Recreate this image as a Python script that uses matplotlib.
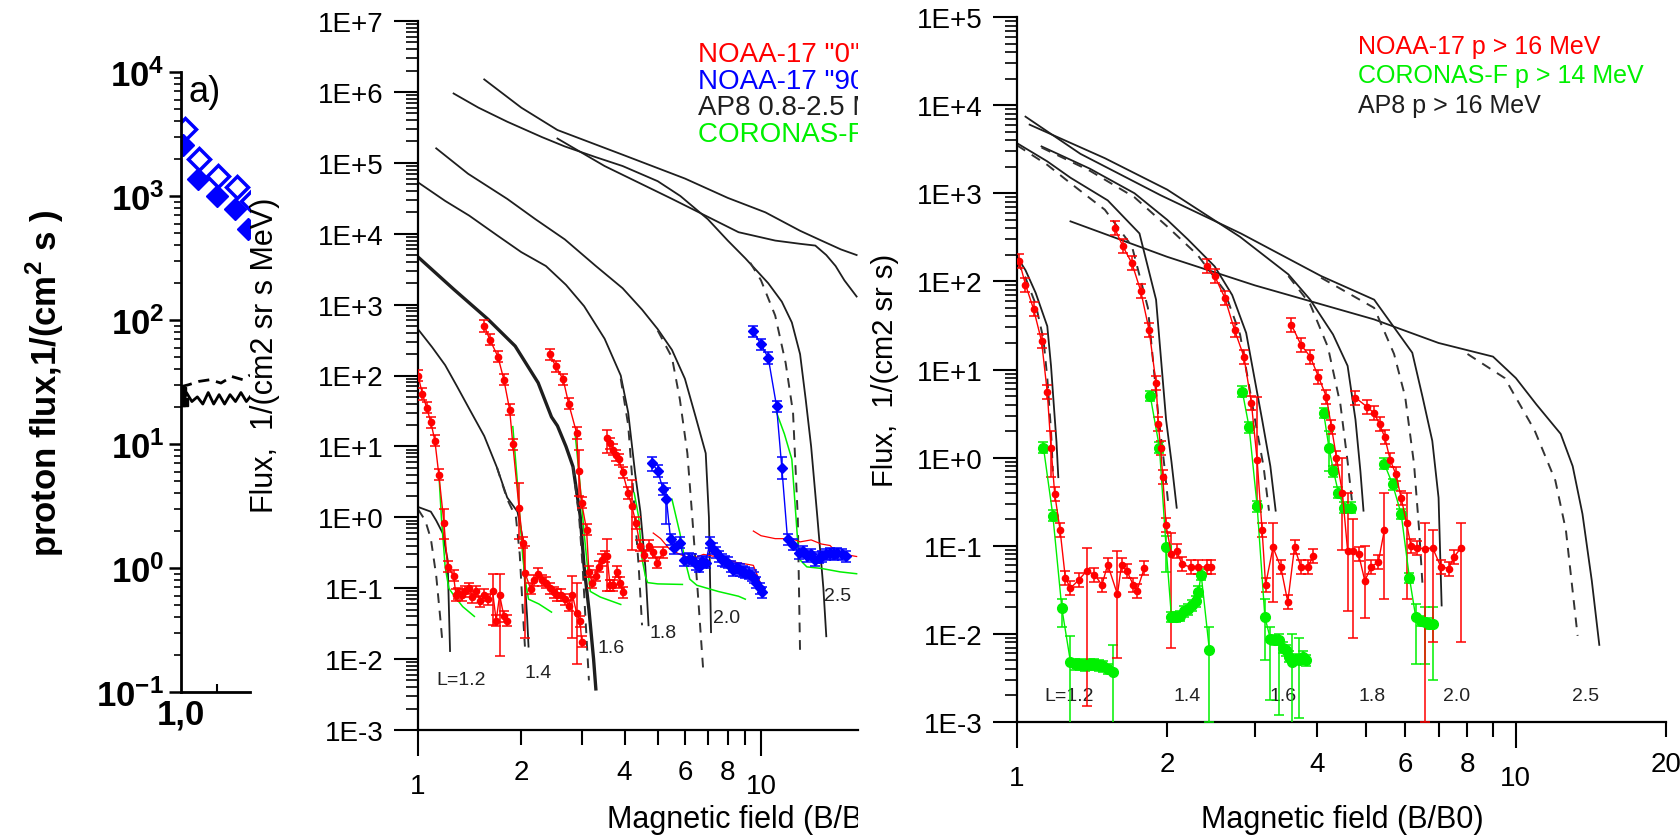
import numpy as np
import matplotlib
matplotlib.use('Agg')
import matplotlib.pyplot as plt
from matplotlib.ticker import FixedLocator, FixedFormatter, LogLocator, NullFormatter
from matplotlib.transforms import Bbox, TransformedBbox

plt.rcParams['font.family'] = ['Liberation Sans', 'DejaVu Sans']
plt.rcParams['mathtext.fontset'] = 'custom'
plt.rcParams['mathtext.rm'] = 'Liberation Sans'
plt.rcParams['mathtext.bf'] = 'Liberation Sans:bold'

RED = '#ff0000'
BLUE = '#0000ff'
GREEN = '#00f000'
BLK = '#1e1e1e'

# ---------------- panel a) ----------------
a_open_x = [1.011, 1.050, 1.102, 1.154, 1.196]
a_open_y = [3500, 2000, 1450, 1180, 910]
a_fill_x = [1.006, 1.047, 1.099, 1.149, 1.184]
a_fill_y = [2600, 1370, 1000, 785, 540]
a_sol_x = [1.0, 1.004, 1.008, 1.015, 1.03, 1.045, 1.06, 1.075, 1.09, 1.105, 1.12, 1.135, 1.15, 1.165, 1.18, 1.19]
a_sol_y = [22, 27, 22, 26, 22, 24, 21, 26, 21, 25, 21, 25, 22, 26, 22, 24]
a_dash_x = [1.0, 1.02, 1.05, 1.08, 1.11, 1.14, 1.17, 1.19]
a_dash_y = [29, 30, 32, 33, 31, 35, 33, 36]

# ---------------- middle panel (differential flux) ----------------
m_ap8 = {
    '1.2': ([1.0, 1.09, 1.13, 1.18, 1.22, 1.24], [1.4, 1.2, 0.9, 0.6, 0.25, 0.013]),
    '1.4': ([1.0, 1.1, 1.2, 1.3, 1.42, 1.56, 1.7, 1.82, 1.95, 2.02, 2.05, 2.08, 2.1],
            [450, 250, 140, 70, 32, 14, 5, 1.9, 1.2, 0.5, 0.12, 0.04, 0.015]),
    '1.6': ([1.0, 1.27, 1.6, 1.92, 2.24, 2.45, 2.55, 2.7, 2.83, 2.97, 3.05, 3.15, 3.25, 3.3],
            [4700, 1650, 620, 260, 79, 26, 19.5, 10, 5.2, 1.06, 0.2, 0.05, 0.01, 0.0038]),
    '1.8': ([1.0, 1.2, 1.41, 1.7, 2.0, 2.36, 2.7, 3.05, 3.5, 3.9, 4.1, 4.3, 4.45, 4.6, 4.7],
            [5.3e4, 2.9e4, 1.8e4, 9.5e3, 5.5e3, 3.5e3, 1.9e3, 950, 330, 100, 30, 4, 1.2, 0.2, 0.03]),
    '2.0': ([1.13, 1.4, 1.82, 2.2, 2.68, 3.3, 3.95, 4.5, 5.0, 5.5, 6.0, 6.45, 6.9, 7.05, 7.15],
            [1.6e5, 7e4, 3.1e4, 1.6e4, 8.3e3, 3.5e3, 1.7e3, 850, 450, 230, 90, 26, 8, 1, 0.024]),
    '2.5': ([1.27, 1.5, 1.82, 2.3, 2.68, 3.3, 3.95, 5.0, 5.82, 7.0, 8.0, 9.0, 10.5, 11.5, 12.3, 13.0, 13.5, 14.0, 14.6, 15.2, 15.5],
            [9.5e5, 6e5, 3.8e5, 2.3e5, 1.7e5, 1.2e5, 9e4, 5.5e4, 3.4e4, 1.6e4, 8e3, 4.5e3, 2000, 1100, 560, 200, 46, 10, 1, 0.1, 0.021]),
    'top1': ([1.56, 2.0, 2.55, 3.95, 6.0, 8.0, 10.3, 13.0, 15.0, 17.1, 19.0],
             [1.5e6, 6e5, 2.9e5, 1.3e5, 6e4, 3.2e4, 2e4, 1.1e4, 8e3, 6e3, 5e3]),
    'top2': ([2.55, 3.5, 5.5, 8.6, 11.0, 13.0, 14.4, 15.5, 16.5, 17.5, 19.0],
             [2.2e5, 9e4, 3.1e4, 1.05e4, 8e3, 7.2e3, 6.8e3, 5e3, 3.5e3, 2.2e3, 1.3e3]),
}
m_ap8_dash = {
    '1.2': ([1.0, 1.05, 1.09, 1.13, 1.16, 1.18], [1.3, 0.9, 0.5, 0.15, 0.04, 0.016]),
    '1.4': ([1.7, 1.82, 1.93, 1.98, 2.02, 2.05], [5, 1.8, 1.0, 0.3, 0.05, 0.015]),
    '1.6': ([2.83, 2.95, 3.02, 3.1, 3.15], [5.2, 1.0, 0.2, 0.02, 0.005]),
    '1.8': ([3.9, 4.1, 4.25, 4.4, 4.5], [90, 20, 2, 0.2, 0.03]),
    '2.0': ([5.0, 5.5, 5.8, 6.1, 6.3, 6.55, 6.8], [430, 180, 46, 8, 1.05, 0.08, 0.006]),
    '2.5': ([9.3, 10.0, 11.0, 11.8, 12.4, 12.8, 13.0], [3.9e3, 2.2e3, 700, 150, 30, 1, 0.012]),
}

m_red1_x = [1.0, 1.03, 1.06, 1.09, 1.12, 1.15, 1.19, 1.22, 1.27, 1.29, 1.31, 1.34, 1.37, 1.41, 1.44, 1.48, 1.52, 1.56, 1.6, 1.65, 1.69, 1.73, 1.78, 1.82]
m_red1_y = [100, 55, 35, 22, 12, 4.0, 0.84, 0.2, 0.15, 0.08, 0.085, 0.08, 0.09, 0.1, 0.075, 0.09, 0.065, 0.08, 0.07, 0.09, 0.035, 0.08, 0.04, 0.035]
m_red1_big = {6: (0.5, 1.3), 19: (0.03, 0.16), 21: (0.011, 0.16)}
m_red2_x = [1.56, 1.62, 1.71, 1.78, 1.85, 1.89, 1.97, 2.02, 2.05, 2.13, 2.18, 2.24, 2.3, 2.36, 2.42, 2.49, 2.55, 2.62, 2.68, 2.75, 2.82, 2.9, 2.97, 3.0]
m_red2_y = [500, 320, 185, 87, 33, 10.7, 1.37, 0.44, 0.165, 0.098, 0.13, 0.16, 0.13, 0.12, 0.1, 0.087, 0.08, 0.08, 0.07, 0.057, 0.08, 0.045, 0.034, 0.0175]
m_red2_big = {6: (0.5, 3.0), 8: (0.02, 0.4), 20: (0.02, 0.15), 21: (0.0085, 0.12)}
m_red3_x = [2.42, 2.52, 2.65, 2.75, 2.9, 2.94, 3.0, 3.1, 3.15, 3.22, 3.3, 3.37, 3.43, 3.5, 3.56, 3.63, 3.7, 3.8, 3.88, 3.95]
m_red3_y = [200, 135, 88, 40, 15.5, 4.5, 1.6, 0.67, 0.17, 0.12, 0.15, 0.2, 0.25, 0.28, 0.28, 0.11, 0.11, 0.17, 0.12, 0.087]
m_red3_big = {5: (2.0, 9.0), 14: (0.09, 0.5)}
m_red4_x = [3.56, 3.63, 3.71, 3.78, 3.85, 3.95, 4.1, 4.2, 4.32, 4.44, 4.55, 4.7, 4.85, 4.99, 5.18]
m_red4_y = [13, 11, 9, 7.5, 6.6, 4.3, 2.2, 1.45, 0.83, 0.4, 0.29, 0.4, 0.32, 0.23, 0.32]
m_red4_big = {0: (8, 17), 7: (0.35, 3.4)}
m_red5_x = [4.85, 5.1, 5.4, 5.8, 6.3, 6.8, 7.35, 7.9, 8.5, 9.0, 9.5, 10.1]
m_red5_y = [0.6, 0.5, 0.36, 0.3, 0.26, 0.3, 0.28, 0.26, 0.23, 0.22, 0.21, 0.1]
m_red6_x = [9.5, 10.0, 11.0, 12.3, 13.0, 14.0, 15.0, 15.9, 16.7, 17.5, 19.0]
m_red6_y = [0.64, 0.55, 0.5, 0.5, 0.45, 0.48, 0.42, 0.4, 0.31, 0.3, 0.28]

m_blue1_x = [4.8, 5.0, 5.18, 5.3, 5.45, 5.58, 5.8, 5.97, 6.15, 6.3, 6.45, 6.6, 6.75, 6.9, 7.1, 7.25, 7.4, 7.55, 7.7, 7.85, 8.0, 8.15, 8.3, 8.5, 8.7, 8.85, 9.0, 9.2, 9.4, 9.55, 9.7, 9.9, 10.1]
m_blue1_y = [5.9, 4.5, 2.5, 1.8, 0.49, 0.37, 0.44, 0.25, 0.26, 0.25, 0.22, 0.2, 0.24, 0.23, 0.44, 0.36, 0.32, 0.28, 0.25, 0.24, 0.23, 0.2, 0.18, 0.19, 0.18, 0.17, 0.165, 0.16, 0.15, 0.14, 0.12, 0.1, 0.087]
m_blue1_big = {0: (4.5, 7.0), 3: (0.8, 2.6)}
m_blue2_x = [9.5, 10.0, 10.5, 11.1, 11.5, 11.95, 12.4, 12.9, 13.3, 13.6, 14.0, 14.4, 14.8, 15.1, 15.5, 15.9, 16.3, 16.7, 17.2, 17.7]
m_blue2_y = [420, 275, 177, 37, 5, 0.49, 0.41, 0.31, 0.33, 0.28, 0.3, 0.25, 0.27, 0.28, 0.3, 0.31, 0.3, 0.31, 0.3, 0.28]
m_blue2_big = {4: (3.5, 7.0)}

m_green = [
    ([1.15, 1.17, 1.2, 1.23, 1.27, 1.35, 1.46], [4.3, 1.0, 0.2, 0.1, 0.08, 0.055, 0.04]),
    ([1.89, 1.95, 2.02, 2.06, 2.1, 2.25, 2.45], [19, 3, 0.28, 0.12, 0.07, 0.06, 0.046]),
    ([2.87, 2.95, 3.05, 3.12, 3.18, 3.4, 3.9], [15.5, 4, 0.6, 0.2, 0.09, 0.075, 0.059]),
    ([4.27, 4.4, 4.5, 4.6, 4.67, 5.0, 5.9], [2.2, 1.0, 0.26, 0.15, 0.12, 0.115, 0.113]),
    ([5.5, 5.8, 6.0, 6.2, 6.5, 7.5, 8.6, 9.0], [1.8, 0.6, 0.25, 0.134, 0.11, 0.09, 0.077, 0.07]),
    ([11.1, 11.7, 12.3, 12.9, 13.6, 15.0, 17.0, 19.0], [30, 15, 6.6, 0.26, 0.2, 0.19, 0.17, 0.16]),
]
m_L_text = ['L=1.2', '1.4', '1.6', '1.8', '2.0', '2.5']
m_L_x = [1.34, 2.24, 3.66, 5.18, 7.93, 16.7]
m_L_y = [5.2e-3, 6.5e-3, 0.0146, 0.0238, 0.0387, 0.078]
m_legend = ['NOAA-17 "0"', 'NOAA-17 "90"', 'AP8 0.8-2.5 MeV', 'CORONAS-F 1-5 MeV']
m_legend_col = [RED, BLUE, BLK, GREEN]

# ---------------- right panel (integral flux) ----------------
r_ap8 = {
    '1.2': ([1.0, 1.04, 1.09, 1.15, 1.17, 1.185, 1.2, 1.21], [190, 134, 74, 31, 11, 4, 1.5, 0.6]),
    '1.4': ([1.0, 1.15, 1.28, 1.52, 1.76, 1.9, 1.99, 2.04, 2.09], [3.7e3, 2.3e3, 1.5e3, 830, 350, 62, 2.7, 0.9, 0.27]),
    '1.6': ([1.12, 1.4, 1.72, 2.0, 2.2, 2.49, 2.7, 2.88, 3.1, 3.22, 3.3], [3.4e3, 1.9e3, 1.0e3, 500, 300, 148, 70, 26, 2.7, 0.8, 0.25]),
    '1.8': ([1.06, 1.5, 2.0, 2.8, 3.5, 3.87, 4.3, 4.6, 4.77, 4.88, 4.95], [6e3, 2.5e3, 1.1e3, 320, 120, 62, 25, 11, 2.7, 0.7, 0.25]),
    '2.0': ([1.04, 1.34, 1.94, 2.81, 4.07, 5.2, 6.2, 6.5, 6.8, 7.0, 7.1], [7.4e3, 2.8e3, 950, 350, 115, 62, 15.5, 4.9, 1.55, 0.35, 0.021]),
    '2.5': ([1.28, 2.0, 3.0, 5.2, 7.0, 9.0, 10.0, 11.0, 12.3, 13.0, 13.6, 14.2, 14.7], [480, 190, 90, 37, 20, 14, 8, 4, 1.86, 0.8, 0.23, 0.04, 0.0075]),
}
r_ap8_dash = {
    '1.2': ([1.0, 1.04, 1.09, 1.13, 1.15, 1.17, 1.18], [170, 110, 55, 22, 8, 2, 0.7]),
    '1.4': ([1.0, 1.15, 1.28, 1.5, 1.7, 1.83, 1.92, 1.97, 2.01], [3.5e3, 2.1e3, 1.3e3, 650, 250, 50, 3, 0.9, 0.3]),
    '1.6': ([1.12, 1.4, 1.72, 2.0, 2.3, 2.6, 2.8, 3.0, 3.12, 3.2], [3.3e3, 1.8e3, 900, 420, 200, 80, 25, 2.7, 0.8, 0.25]),
    '1.8': ([3.5, 3.87, 4.2, 4.45, 4.6, 4.7], [115, 55, 18, 4, 0.9, 0.3]),
    '2.0': ([4.07, 5.2, 5.7, 6.0, 6.25, 6.4, 6.5], [110, 50, 15, 4.9, 0.85, 0.15, 0.036]),
    '2.5': ([8.0, 9.5, 10.9, 12.0, 12.6, 13.3], [15, 8, 2.05, 0.55, 0.15, 0.0095]),
}

r_red1_x = [1.01, 1.04, 1.08, 1.12, 1.15, 1.17, 1.19, 1.22, 1.25, 1.28, 1.33, 1.38, 1.43, 1.48, 1.52, 1.59, 1.62, 1.66, 1.71, 1.74, 1.8]
r_red1_y = [170, 92, 48, 21, 5.5, 1.3, 0.39, 0.15, 0.043, 0.033, 0.041, 0.052, 0.047, 0.036, 0.061, 0.028, 0.061, 0.052, 0.036, 0.031, 0.056]
r_red1_big = {5: (0.6, 2.0), 11: (0.0015, 0.095), 15: (0.0053, 0.087)}
r_red2_x = [1.57, 1.63, 1.7, 1.77, 1.84, 1.9, 1.92, 1.94, 1.96, 1.99, 2.04, 2.09, 2.14, 2.23, 2.31, 2.4, 2.45]
r_red2_y = [400, 250, 160, 78, 28, 7, 2.4, 1.3, 0.6, 0.17, 0.08, 0.088, 0.062, 0.057, 0.058, 0.057, 0.058]
r_red2_big = {10: (0.007, 0.14)}
r_red3_x = [2.4, 2.49, 2.61, 2.73, 2.85, 2.95, 3.03, 3.1, 3.15, 3.26, 3.38, 3.49, 3.6, 3.71, 3.83, 3.92]
r_red3_y = [148, 115, 65, 28, 14, 4.2, 0.93, 0.15, 0.036, 0.096, 0.057, 0.023, 0.096, 0.057, 0.057, 0.076]
r_red3_big = {6: (0.27, 4.9), 9: (0.023, 0.18)}
r_red4_x = [3.55, 3.71, 3.87, 4.02, 4.17, 4.27, 4.37, 4.49, 4.6, 4.72, 4.84, 4.98, 5.13, 5.3, 5.45]
r_red4_y = [32, 19, 14, 8.3, 4.9, 2.2, 1.0, 0.4, 0.088, 0.088, 0.08, 0.04, 0.058, 0.065, 0.15]
r_red4_big = {7: (0.09, 1.0), 8: (0.018, 0.4), 9: (0.009, 0.2), 11: (0.015, 0.1), 14: (0.025, 0.4)}
r_red5_x = [4.77, 5.02, 5.2, 5.33, 5.46, 5.6, 5.74, 5.89, 6.04, 6.16, 6.34, 6.57, 6.81, 7.07, 7.33, 7.52, 7.77]
r_red5_y = [4.8, 3.8, 3.2, 2.4, 1.7, 0.94, 0.66, 0.35, 0.18, 0.1, 0.095, 0.092, 0.095, 0.058, 0.055, 0.075, 0.095]
r_red5_big = {8: (0.025, 0.4), 11: (0.001, 0.18), 12: (0.008, 0.15), 16: (0.008, 0.18)}

r_grn1_x = [1.13, 1.18, 1.23, 1.28, 1.31, 1.34, 1.37, 1.4, 1.43, 1.46, 1.49, 1.52, 1.56]
r_grn1_y = [1.3, 0.22, 0.0195, 0.0048, 0.0045, 0.0045, 0.0044, 0.0045, 0.0045, 0.0044, 0.0043, 0.004, 0.0037]
r_grn1_big = {2: (0.012, 0.025), 3: (0.0003, 0.0095), 12: (0.0007, 0.0075)}
r_grn2_x = [1.85, 1.93, 1.99, 2.04, 2.08, 2.12, 2.16, 2.2, 2.24, 2.28, 2.31, 2.34, 2.43]
r_grn2_y = [5, 1.3, 0.096, 0.0155, 0.0155, 0.016, 0.018, 0.019, 0.021, 0.0235, 0.03, 0.047, 0.0066]
r_grn2_big = {2: (0.05, 0.13), 12: (0.001, 0.012)}
r_grn3_x = [2.83, 2.92, 3.03, 3.14, 3.22, 3.29, 3.35, 3.41, 3.46, 3.51, 3.56, 3.62, 3.68, 3.74, 3.8]
r_grn3_y = [5.6, 2.2, 0.28, 0.0155, 0.0088, 0.0085, 0.0085, 0.007, 0.0065, 0.0055, 0.0048, 0.0052, 0.005, 0.0055, 0.005]
r_grn3_big = {3: (0.005, 0.025), 4: (0.0018, 0.012), 6: (0.0012, 0.01), 10: (0.0005, 0.01), 12: (0.0011, 0.009)}
r_grn4_x = [4.12, 4.22, 4.31, 4.41, 4.53, 4.67]
r_grn4_y = [3.2, 1.3, 0.7, 0.4, 0.27, 0.27]
r_grn4_big = {1: (0.7, 2.0)}
r_grn5_x = [5.45, 5.66, 5.89, 6.12, 6.3, 6.45, 6.57, 6.7, 6.82]
r_grn5_y = [0.85, 0.5, 0.23, 0.043, 0.0155, 0.014, 0.0136, 0.013, 0.013]
r_grn5_big = {4: (0.0045, 0.022), 6: (0.0045, 0.02), 8: (0.003, 0.02)}

r_L_text = ['L=1.2', '1.4', '1.6', '1.8', '2.0', '2.5']
r_L_x = [1.27, 2.19, 3.42, 5.15, 7.6, 13.8]
r_L_y = [0.002, 0.002, 0.002, 0.002, 0.002, 0.002]
r_legend = ['NOAA-17 p > 16 MeV', 'CORONAS-F p > 14 MeV', 'AP8 p > 16 MeV']
r_legend_col = [RED, GREEN, BLK]


def err_series(ax, x, y, big, color, marker, ms, f=1.2, lw=1.0, cap=3.5):
    x = np.asarray(x, float)
    y = np.asarray(y, float)
    lo = y / f
    hi = y * f
    for i, (a, b) in big.items():
        lo[i] = a
        hi[i] = b
    ax.errorbar(x, y, yerr=[y - lo, hi - y], color=color, marker=marker, ms=ms,
                lw=lw, elinewidth=1.1, capsize=cap, capthick=1.1, zorder=4)


def log_style(ax, e0, e1, minor_x, minor_lab, ytick_size=20):
    for s in ['top', 'right']:
        ax.spines[s].set_visible(False)
    for s in ['left', 'bottom']:
        ax.spines[s].set_linewidth(1.6)
    dec = [10.0 ** e for e in range(e0, e1 + 1)]
    ax.yaxis.set_major_locator(FixedLocator(dec))
    ax.yaxis.set_major_formatter(FixedFormatter(['1E%+d' % e for e in range(e0, e1 + 1)]))
    ax.yaxis.set_minor_locator(LogLocator(base=10, subs=np.arange(2, 10) * 1.0, numticks=60))
    ax.yaxis.set_minor_formatter(NullFormatter())
    ax.xaxis.set_major_locator(FixedLocator([1, 10]))
    ax.xaxis.set_major_formatter(FixedFormatter(['1', '10']))
    ax.xaxis.set_minor_locator(FixedLocator(minor_x))
    ax.xaxis.set_minor_formatter(FixedFormatter(minor_lab))
    ax.tick_params(axis='y', which='major', direction='out', length=17, width=1.5,
                   labelsize=ytick_size, pad=8)
    ax.tick_params(axis='y', which='minor', direction='out', length=8.5, width=1.2)
    ax.tick_params(axis='x', which='major', direction='out', length=19, width=1.5,
                   labelsize=ytick_size, pad=12)
    ax.tick_params(axis='x', which='minor', direction='out', length=11, width=1.5,
                   labelsize=ytick_size, pad=10)


fig = plt.figure(figsize=(16.8, 8.37), dpi=100)
W, H = 1680.0, 837.0

# ---------------- panel a) ----------------
axL = fig.add_axes([181 / W, 1 - 693 / H, 69 / W, (693 - 73) / H])
axL.set_yscale('log')
axL.set_xlim(1.0, 1.19)
axL.set_ylim(0.1, 1e4)
axL.plot(a_dash_x, a_dash_y, color='black', lw=2.0, ls=(0, (4, 2.5)))
axL.plot(a_sol_x, a_sol_y, color='black', lw=2.0)
axL.plot(a_sol_x[:3], a_sol_y[:3], 's', color='black', ms=6)
axL.plot(a_open_x, a_open_y, 'D', mfc='white', mec=BLUE, mew=2.5, ms=11)
axL.plot(a_fill_x, a_fill_y, 'D', color=BLUE, ms=11)
for s in ['top', 'right']:
    axL.spines[s].set_visible(False)
for s in ['left', 'bottom']:
    axL.spines[s].set_linewidth(2.0)
axL.yaxis.set_major_locator(FixedLocator([10.0 ** e for e in range(-1, 5)]))
axL.yaxis.set_major_formatter(FixedFormatter([r'$\mathbf{10^{%d}}$' % e for e in range(-1, 5)]))
axL.yaxis.set_minor_locator(LogLocator(base=10, subs=np.arange(2, 10) * 1.0, numticks=60))
axL.yaxis.set_minor_formatter(NullFormatter())
axL.xaxis.set_major_locator(FixedLocator([1.0]))
axL.xaxis.set_major_formatter(FixedFormatter(['1,0']))
axL.xaxis.set_minor_locator(FixedLocator([1.1]))
axL.tick_params(axis='y', which='major', direction='out', length=9, width=1.8, labelsize=25, pad=3)
axL.tick_params(axis='y', which='minor', direction='out', length=5, width=1.2)
axL.tick_params(axis='x', which='major', direction='out', length=0, width=1.8, labelsize=25, pad=4)
axL.tick_params(axis='x', which='minor', direction='in', length=6, width=1.5)
for t in axL.get_xticklabels():
    t.set_fontweight('bold')
fig.text(205 / W, 1 - 92 / H, 'a)', fontsize=26, ha='center', va='center')
fig.text(45 / W, 1 - 383 / H, r'proton flux,1/(cm$^{\mathbf{2}}$ s )', rotation=90,
         fontsize=25, fontweight='bold', ha='center', va='center')

# ---------------- middle panel ----------------
axM = fig.add_axes([418 / W, 1 - 731 / H, 440 / W, (731 - 22) / H])
axM.set_xscale('log')
axM.set_yscale('log')
axM.set_xlim(1, 10 ** (440 / 343.0))
axM.set_ylim(1e-3, 1e7)
for k, (xx, yy) in m_ap8.items():
    axM.plot(xx, yy, color=BLK, lw=2.4 if k == '1.6' else 1.3, zorder=2)
for k, (xx, yy) in m_ap8_dash.items():
    axM.plot(xx, yy, color='#333333', lw=1.4, ls=(0, (5, 4)), zorder=2)
for xx, yy in m_green:
    axM.plot(xx, yy, color=GREEN, lw=1.1, zorder=3)
axM.plot(m_red5_x, m_red5_y, color=RED, lw=0.9, zorder=3)
axM.plot(m_red6_x, m_red6_y, color=RED, lw=0.9, zorder=3)
for xx, yy, bb in [(m_red1_x, m_red1_y, m_red1_big), (m_red2_x, m_red2_y, m_red2_big),
                   (m_red3_x, m_red3_y, m_red3_big), (m_red4_x, m_red4_y, m_red4_big)]:
    err_series(axM, xx, yy, bb, RED, 'o', 4.5)
for xx, yy, bb in [(m_blue1_x, m_blue1_y, m_blue1_big), (m_blue2_x, m_blue2_y, m_blue2_big)]:
    err_series(axM, xx, yy, bb, BLUE, 'D', 5)
for t, xx, yy in zip(m_L_text, m_L_x, m_L_y):
    axM.text(xx, yy, t, fontsize=14, color='#222222', ha='center', va='center', clip_on=True)
for i, (t, c) in enumerate(zip(m_legend, m_legend_col)):
    axM.text((698 - 418) / 440.0, 1 - (55 + 26.7 * i - 22) / 709.0, t, color=c, fontsize=20,
             transform=axM.transAxes, va='center', ha='left', clip_on=True)
log_style(axM, -3, 7, [2, 3, 4, 5, 6, 7, 8, 9, 20], ['2', '', '4', '', '6', '', '8', '', ''])
fig.text(265 / W, 1 - 355 / H, 'Flux,  1/(cm2 sr s MeV)', rotation=90, fontsize=22,
         ha='center', va='center')
xl = fig.text(607 / W, 1 - 820 / H, 'Magnetic field (B/B0)', fontsize=22, ha='left', va='center')
xl.set_clip_box(TransformedBbox(Bbox([[0, 0], [858 / W, 1]]), fig.transFigure))
xl.set_clip_on(True)

# ---------------- right panel ----------------
axR = fig.add_axes([1017 / W, 1 - 723 / H, 649 / W, (723 - 18) / H])
axR.set_xscale('log')
axR.set_yscale('log')
axR.set_xlim(1, 20)
axR.set_ylim(1e-3, 1e5)
for k, (xx, yy) in r_ap8.items():
    axR.plot(xx, yy, color=BLK, lw=1.3, zorder=2)
for k, (xx, yy) in r_ap8_dash.items():
    axR.plot(xx, yy, color='#333333', lw=1.4, ls=(0, (5, 4)), zorder=2)
for xx, yy, bb in [(r_grn1_x, r_grn1_y, r_grn1_big), (r_grn2_x, r_grn2_y, r_grn2_big),
                   (r_grn3_x, r_grn3_y, r_grn3_big), (r_grn4_x, r_grn4_y, r_grn4_big),
                   (r_grn5_x, r_grn5_y, r_grn5_big)]:
    err_series(axR, xx, yy, bb, GREEN, 'o', 7, f=1.15)
for xx, yy, bb in [(r_red1_x, r_red1_y, r_red1_big), (r_red2_x, r_red2_y, r_red2_big),
                   (r_red3_x, r_red3_y, r_red3_big), (r_red4_x, r_red4_y, r_red4_big),
                   (r_red5_x, r_red5_y, r_red5_big)]:
    err_series(axR, xx, yy, bb, RED, 'o', 4.5)
for t, xx, yy in zip(r_L_text, r_L_x, r_L_y):
    axR.text(xx, yy, t, fontsize=14, color='#222222', ha='center', va='center')
for i, (t, c) in enumerate(zip(r_legend, r_legend_col)):
    fig.text(1358 / W, 1 - (47 + 29.5 * i) / H, t, color=c, fontsize=18, va='center', ha='left')
log_style(axR, -3, 5, [2, 3, 4, 5, 6, 7, 8, 9, 20], ['2', '', '4', '', '6', '', '8', '', '20'])
fig.text(885 / W, 1 - 370 / H, 'Flux,  1/(cm2 sr s)', rotation=90, fontsize=21,
         ha='center', va='center')
fig.text(1342 / W, 1 - 820 / H, 'Magnetic field (B/B0)', fontsize=22, ha='center', va='center')

fig.savefig('out.png', dpi=100)
